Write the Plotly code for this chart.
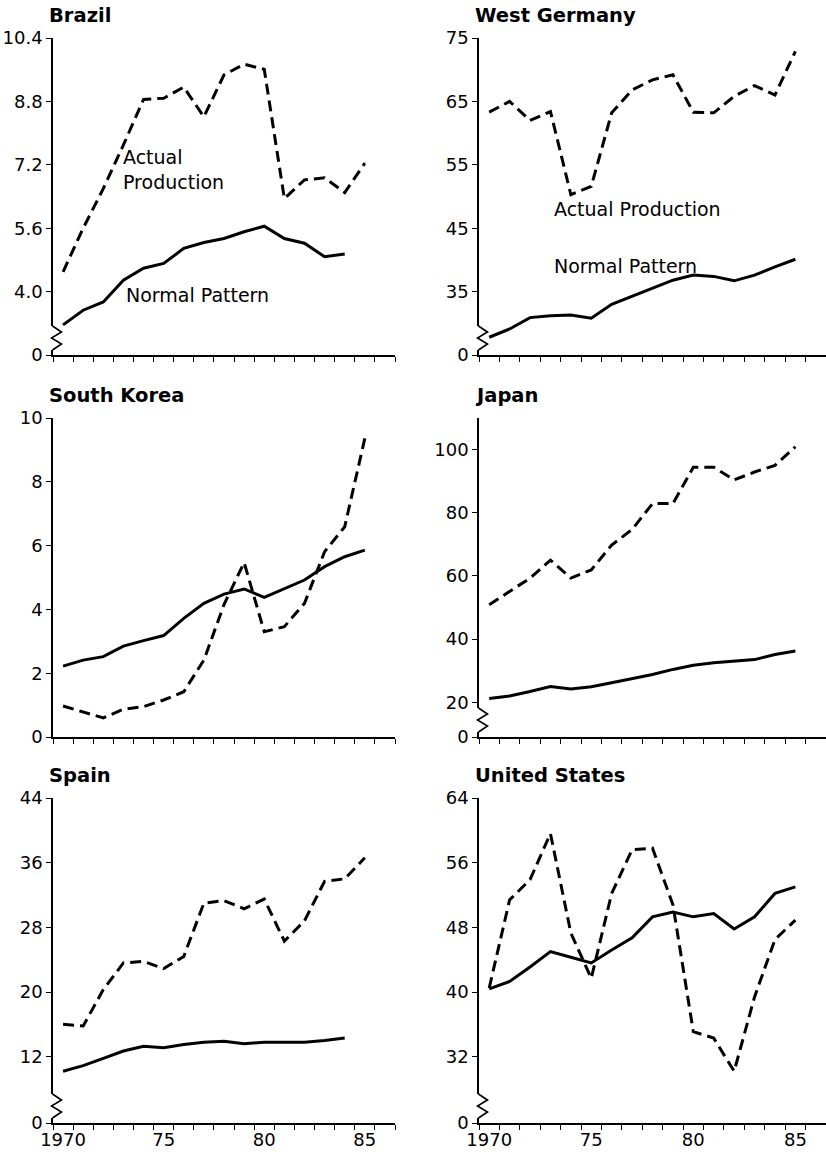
import plotly.graph_objects as go

# ---------------- data ----------------
years = list(range(1970, 1986))

brazil_actual = [4.50, 5.60, 6.60, 7.70, 8.85, 8.88, 9.16, 8.41, 9.47, 9.74, 9.61, 6.35, 6.82, 6.87, 6.50, 7.24]
brazil_normal = [3.16, 3.53, 3.74, 4.29, 4.59, 4.71, 5.09, 5.24, 5.34, 5.51, 5.65, 5.34, 5.22, 4.88, 4.95, None]

wgermany_actual = [63.3, 65.0, 62.0, 63.4, 50.3, 51.6, 63.2, 66.8, 68.4, 69.2, 63.3, 63.2, 65.8, 67.5, 66.0, 72.9]
wgermany_normal = [27.8, 29.1, 30.9, 31.2, 31.3, 30.8, 33.0, 34.3, 35.6, 36.8, 37.6, 37.4, 36.7, 37.6, 38.9, 40.1]

skorea_actual = [0.97, 0.79, 0.60, 0.87, 0.95, 1.16, 1.42, 2.41, 4.15, 5.47, 3.30, 3.46, 4.19, 5.81, 6.59, 9.36]
skorea_normal = [2.22, 2.41, 2.52, 2.85, 3.02, 3.18, 3.72, 4.19, 4.48, 4.64, 4.38, 4.66, 4.92, 5.34, 5.65, 5.86]

japan_actual = [50.9, 55.1, 59.3, 65.0, 59.3, 61.9, 69.8, 74.7, 82.9, 82.9, 94.4, 94.4, 90.4, 92.9, 95.0, 100.9]
japan_normal = [21.2, 22.0, 23.4, 25.0, 24.2, 24.9, 26.2, 27.5, 28.8, 30.4, 31.7, 32.5, 33.0, 33.5, 35.1, 36.2]

spain_actual = [16.0, 15.8, 20.3, 23.6, 23.8, 22.9, 24.4, 31.0, 31.3, 30.3, 31.5, 26.3, 28.8, 33.7, 34.0, 36.6]
spain_normal = [10.2, 10.9, 11.8, 12.7, 13.3, 13.1, 13.5, 13.8, 13.9, 13.6, 13.8, 13.8, 13.8, 14.0, 14.3, None]

us_actual = [40.5, 51.4, 53.9, 59.6, 47.3, 41.7, 52.2, 57.6, 57.8, 50.8, 35.1, 34.3, 30.2, 39.4, 46.5, 48.9]
us_normal = [40.4, 41.3, 43.1, 45.0, 44.3, 43.6, 45.2, 46.7, 49.3, 49.9, 49.3, 49.7, 47.8, 49.3, 52.2, 53.0]

titles = ["Brazil", "West Germany", "South Korea", "Japan", "Spain", "United States"]

# y-axis scales (the lowest value is drawn as a broken "0")
brazil_ticks = [4.0, 5.6, 7.2, 8.8, 10.4]
wgermany_ticks = [35, 45, 55, 65, 75]
skorea_ticks = [0, 2, 4, 6, 8, 10]
japan_ticks = [20, 40, 60, 80, 100]
spain_ticks = [12, 20, 28, 36, 44]
us_ticks = [32, 40, 48, 56, 64]

x_labels_vals = [1970, 1975, 1980, 1985]
x_labels_text = ["1970", "75", "80", "85"]

# ---------------- layout helpers ----------------
W, H = 826, 1157
def fx(p):
    return p / W
def fy(p):
    return 1 - p / H

col_px = [(53, 395), (479, 826)]
row_px = [(38, 355), (418, 737), (798, 1123)]

panels = [
    dict(actual=brazil_actual, normal=brazil_normal, ymin=2.4, ymax=10.4, ticks=brazil_ticks, fmt="{:.1f}", brk=True),
    dict(actual=wgermany_actual, normal=wgermany_normal, ymin=25, ymax=75, ticks=wgermany_ticks, fmt="{:d}", brk=True),
    dict(actual=skorea_actual, normal=skorea_normal, ymin=0, ymax=10, ticks=skorea_ticks, fmt="{:d}", brk=False),
    dict(actual=japan_actual, normal=japan_normal, ymin=9, ymax=110, ticks=japan_ticks, fmt="{:d}", brk=True),
    dict(actual=spain_actual, normal=spain_normal, ymin=3.8, ymax=44, ticks=spain_ticks, fmt="{:d}", brk=True),
    dict(actual=us_actual, normal=us_normal, ymin=23.8, ymax=64, ticks=us_ticks, fmt="{:d}", brk=True),
]

FONT = "DejaVu Sans"
fig = go.Figure()
shapes = []
annotations = []

for i, p in enumerate(panels):
    r, c = divmod(i, 2)
    n = "" if i == 0 else str(i + 1)
    xa, ya = "x" + n, "y" + n
    x0, x1 = col_px[c]
    y0, y1 = row_px[r]

    fig.add_trace(go.Scatter(x=years, y=p["actual"], mode="lines", xaxis=xa, yaxis=ya,
                             line=dict(color="black", width=3, dash="11px,6px"),
                             showlegend=False, hoverinfo="skip"))
    fig.add_trace(go.Scatter(x=years, y=p["normal"], mode="lines", xaxis=xa, yaxis=ya,
                             line=dict(color="black", width=3),
                             showlegend=False, hoverinfo="skip"))

    if p["brk"]:
        tv = [p["ymin"]] + p["ticks"]
        tt = ["0"] + [p["fmt"].format(t) for t in p["ticks"]]
    else:
        tv = p["ticks"]
        tt = [p["fmt"].format(t) for t in p["ticks"]]

    fig.layout["xaxis" + n] = dict(
        domain=[fx(x0), fx(x1)], anchor=ya, range=[1969.5, 1986.5], automargin=False,
        showline=True, linecolor="black", linewidth=1.5, showgrid=False, zeroline=False,
        tickvals=x_labels_vals, ticktext=x_labels_text if r == 2 else ["", "", "", ""],
        ticks="", tickfont=dict(family=FONT, size=18, color="black"),
        minor=dict(tickvals=[1969.5 + k for k in range(18)], ticks="outside", ticklen=5,
                   tickcolor="black", tickwidth=1.3),
    )
    fig.layout["yaxis" + n] = dict(
        domain=[fy(y1), fy(y0)], anchor=xa, range=[p["ymin"], p["ymax"]], automargin=False,
        showline=True, linecolor="black", linewidth=1.5, showgrid=False, zeroline=False,
        tickvals=tv, ticktext=tt, ticks="outside", ticklen=5, tickcolor="black", tickwidth=1.3,
        tickfont=dict(family=FONT, size=18, color="black"),
    )

    annotations.append(dict(xref="paper", yref="paper", x=fx(x0 - 6), y=fy(y0 - 23),
                            text="<b>" + titles[i] + "</b>",
                            showarrow=False, xanchor="left", yanchor="middle",
                            font=dict(family=FONT, size=19.5, color="black")))

    if p["brk"]:
        ax = x0 - 0.5
        b = y1
        shapes.append(dict(type="line", xref="paper", yref="paper",
                           x0=fx(ax), x1=fx(ax), y0=fy(b - 29), y1=fy(b - 5),
                           line=dict(color="white", width=4), layer="above"))
        pts = [(ax, b - 29), (ax + 9, b - 23), (ax - 1, b - 17), (ax + 9, b - 11), (ax, b - 5)]
        path = "M " + " L ".join(f"{fx(a):.5f},{fy(bb):.5f}" for a, bb in pts)
        shapes.append(dict(type="path", xref="paper", yref="paper", path=path,
                           line=dict(color="black", width=1.6), layer="above"))

# series labels (Brazil and West Germany)
lab_font = dict(family=FONT, size=19, color="black")
annotations += [
    dict(xref="x", yref="y", x=1972.9, y=7.07, text="Actual<br>Production", align="left",
         showarrow=False, xanchor="left", yanchor="middle", font=lab_font),
    dict(xref="x", yref="y", x=1973.05, y=3.91, text="Normal Pattern",
         showarrow=False, xanchor="left", yanchor="middle", font=lab_font),
    dict(xref="x2", yref="y2", x=1973.1, y=47.96, text="Actual Production",
         showarrow=False, xanchor="left", yanchor="middle", font=lab_font),
    dict(xref="x2", yref="y2", x=1973.1, y=39.0, text="Normal Pattern",
         showarrow=False, xanchor="left", yanchor="middle", font=lab_font),
]

fig.update_layout(width=W, height=H, autosize=False,
                  margin=dict(l=0, r=0, t=0, b=0, autoexpand=False),
                  paper_bgcolor="white", plot_bgcolor="white",
                  shapes=shapes, annotations=annotations,
                  font=dict(family=FONT, color="black"))

fig.write_html("out.html", config={"displayModeBar": False},
               post_script="document.body.style.margin='0px';")
